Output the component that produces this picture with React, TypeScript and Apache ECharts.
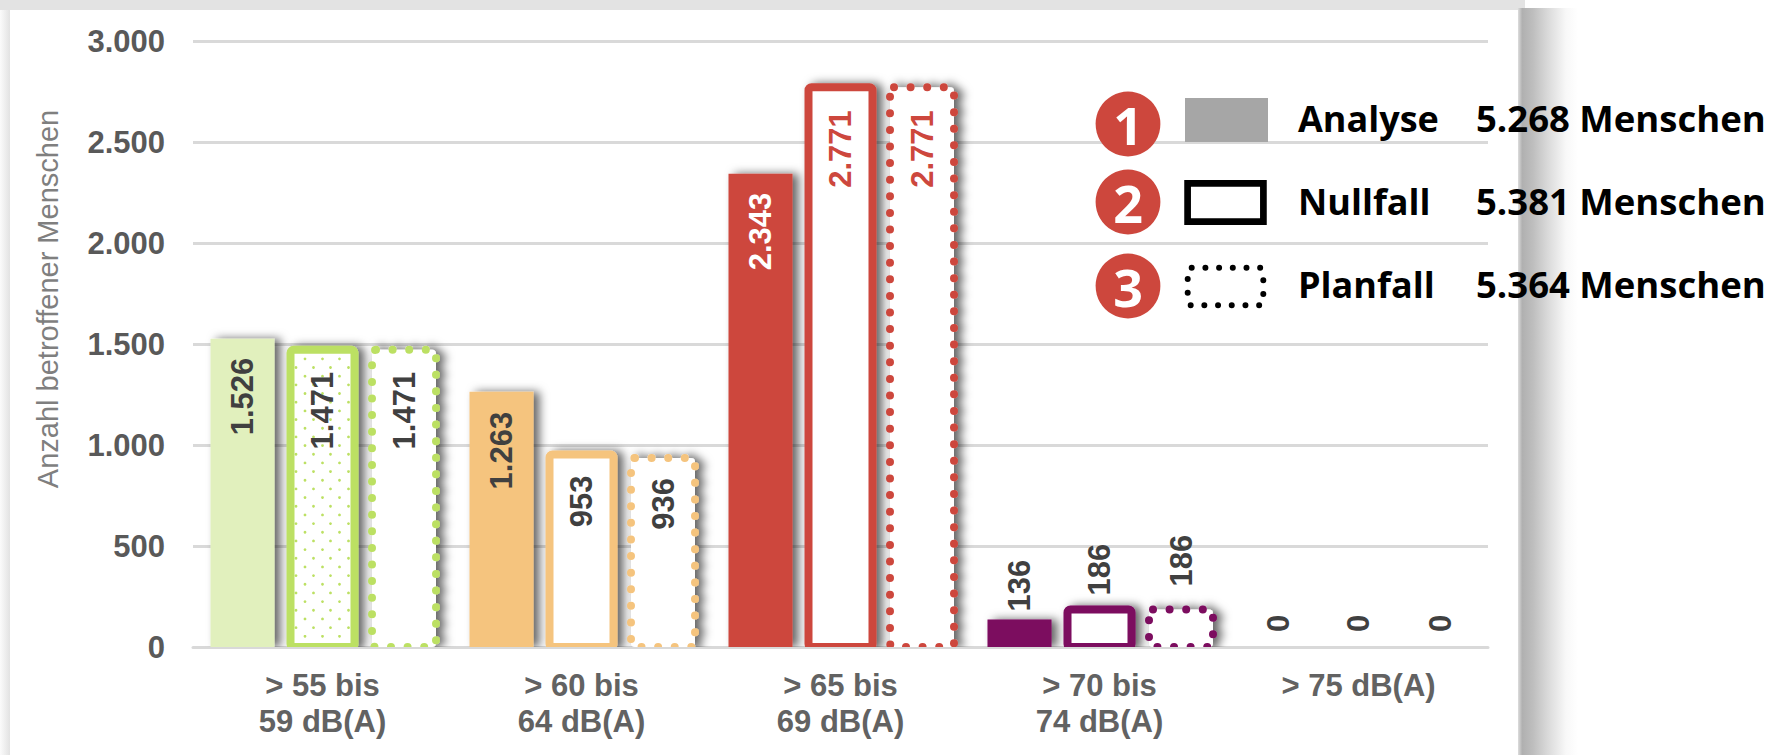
import React, { useEffect, useRef } from "react";
import * as echarts from "echarts";

const categories = ["> 55 bis\n59 dB(A)", "> 60 bis\n64 dB(A)", "> 65 bis\n69 dB(A)", "> 70 bis\n74 dB(A)", "> 75 dB(A)"];
const analyse = [1526, 1263, 2343, 136, 0];
const nullfall = [1471, 953, 2771, 186, 0];
const planfall = [1471, 936, 2771, 186, 0];
const yTicks = [0, 500, 1000, 1500, 2000, 2500, 3000];
const strongColors = ["#BCE063", "#F5C47E", "#CD473D", "#7B0A5E", "#7B0A5E"];
const analyseColors = ["#E1F0BD", "#F5C47E", "#CD473D", "#7B0A5E", "#7B0A5E"];
const legendRows = [
  { num: "1", name: "Analyse", total: "5.268 Menschen" },
  { num: "2", name: "Nullfall", total: "5.381 Menschen" },
  { num: "3", name: "Planfall", total: "5.364 Menschen" },
];

// Distance of each value label from the top of its bar (negative: above the bar)
const analyseLabelNudge = [19, 20, 19, -8, -15];
const nullfallLabelNudge = [22, 21, 23, -14, -15];
const planfallLabelNudge = [22, 20, 23, -23, -15];

const FONT = '"Liberation Sans", Arial, sans-serif';
const LEGEND_FONT = '"Open Sans", sans-serif';
const fmt = (v: number) => String(v).replace(/\B(?=(\d{3})+$)/g, ".");
const SHADOW = { shadowColor: "rgba(0,0,0,0.6)", shadowBlur: 10, shadowOffsetX: 6, shadowOffsetY: 0 };
const DOT_ROWS = [[-17.5, 0, 17], [-26.5, -9, 8, 26]];

type Kind = "fill" | "solid" | "dot";

function makeSeries(name: string, values: number[], kind: Kind, xOffset: number, nudge: number[]) {
  return {
    name,
    type: "custom",
    clip: true,
    silent: true,
    encode: { x: 0, y: 1 },
    data: values.map((v, i) => [i, v]),
    renderItem: (_p: any, api: any) => {
      const i = api.value(0);
      const v = api.value(1);
      const [cx, yTop] = api.coord([i, v]);
      const [, y0] = api.coord([i, 0]);
      const xc = cx + xOffset;
      const c = strongColors[i];
      const kids: any[] = [];
      const shape = { x: xc - 32, y: yTop, width: 64, height: y0 - yTop };
      if (v > 0) {
        if (kind === "fill") {
          kids.push({ type: "rect", shape, style: { fill: analyseColors[i], ...SHADOW } });
        } else if (kind === "solid") {
          kids.push({ type: "rect", shape: { ...shape, r: 3 }, style: { fill: "#FFFFFF", stroke: c, lineWidth: 8, ...SHADOW } });
          if (i === 0) {
            for (let row = 0, y = yTop + 9; y < y0 - 4; row++, y += 8.67) {
              DOT_ROWS[row % 2].forEach((dx) => {
                kids.push({ type: "circle", shape: { cx: xc + dx, cy: y, r: 1.4 }, style: { fill: c } });
              });
            }
          }
        } else {
          kids.push({ type: "rect", shape: { ...shape, r: 4 }, style: { fill: "#FFFFFF", stroke: c, lineWidth: 8, lineDash: [0, 16.6], lineCap: "round", ...SHADOW } });
        }
      }
      const n = nudge[i];
      const color = i === 2 ? (kind === "fill" ? "#FFFFFF" : c) : "#404040";
      kids.push({
        type: "text",
        x: xc,
        y: yTop + n,
        rotation: Math.PI / 2,
        style: { text: fmt(v), fill: color, font: `bold 31px ${FONT}`, align: n > 0 ? "right" : "left", verticalAlign: "middle" },
      });
      return { type: "group", children: kids };
    },
  };
}

const legendGraphics = () => {
  const circleYs = [124, 202, 286];
  const textYs = [118, 201, 284];
  const out: any[] = [];
  legendRows.forEach((r, i) => {
    out.push({ type: "circle", z: 100, shape: { cx: 1128, cy: circleYs[i], r: 32.4 }, style: { fill: "#CD473D" } });
    out.push({ type: "text", z: 101, x: 1128, y: circleYs[i], style: { text: r.num, fill: "#FFFFFF", font: `bold 52px ${LEGEND_FONT}`, align: "center", verticalAlign: "middle" } });
    out.push({ type: "text", z: 101, x: 1298, y: textYs[i], style: { text: r.name, fill: "#000000", font: `bold 36px ${LEGEND_FONT}`, align: "left", verticalAlign: "middle" } });
    out.push({ type: "text", z: 101, x: 1476, y: textYs[i], style: { text: r.total, fill: "#000000", font: `bold 36.5px ${LEGEND_FONT}`, align: "left", verticalAlign: "middle" } });
  });
  out.push({ type: "rect", z: 100, shape: { x: 1185, y: 98, width: 83, height: 44 }, style: { fill: "#A6A6A6" } });
  out.push({ type: "rect", z: 100, shape: { x: 1187.6, y: 183.3, width: 75.8, height: 38.4 }, style: { fill: "#FFFFFF", stroke: "#000000", lineWidth: 6.7 } });
  out.push({ type: "rect", z: 100, shape: { x: 1187.7, y: 267.7, width: 75.6, height: 37.6, r: 4 }, style: { fill: "#FFFFFF", stroke: "#000000", lineWidth: 6, lineDash: [0, 13.7], lineCap: "round" } });
  return out;
};

const backgroundGraphics = () => [
  { type: "rect", z: -10, shape: { x: 0, y: 0, width: 1771, height: 755 }, style: { fill: "#FFFFFF" } },
  { type: "rect", z: -9, shape: { x: 0, y: 0, width: 10, height: 755 }, style: { fill: { type: "linear", x: 0, y: 0, x2: 1, y2: 0, colorStops: [{ offset: 0, color: "#FBFBFB" }, { offset: 1, color: "#E2E2E2" }] } } },
  { type: "rect", z: -9, shape: { x: 0, y: 0, width: 1525, height: 10 }, style: { fill: "#E3E3E3" } },
  { type: "rect", z: -9, shape: { x: 1518, y: 8, width: 60, height: 747 }, style: { fill: { type: "linear", x: 0, y: 0, x2: 1, y2: 0, colorStops: [{ offset: 0, color: "#DDDDDD" }, { offset: 0.07, color: "#B0B0B0" }, { offset: 0.25, color: "#BEBEBE" }, { offset: 0.5, color: "#DADADA" }, { offset: 0.8, color: "#F8F8F8" }, { offset: 1, color: "#FFFFFF" }] } } },
];

export default function App() {
  const ref = useRef<HTMLDivElement>(null);
  useEffect(() => {
    const chart = echarts.init(ref.current!, undefined, { renderer: "svg" });
    chart.setOption({
      animation: false,
      backgroundColor: "#FFFFFF",
      grid: { left: 193, right: 283, top: 41, bottom: 108, containLabel: false },
      xAxis: {
        type: "category",
        data: categories,
        axisTick: { show: false },
        axisLine: { lineStyle: { color: "#D9D9D9", width: 3 } },
        axisLabel: { color: "#626262", fontFamily: FONT, fontWeight: "bold", fontSize: 31, lineHeight: 36, margin: 20, interval: 0 },
      },
      yAxis: {
        type: "value",
        min: yTicks[0],
        max: yTicks[yTicks.length - 1],
        interval: 500,
        name: "Anzahl betroffener Menschen",
        nameLocation: "middle",
        nameGap: 131,
        nameTextStyle: { color: "#7F7F7F", fontFamily: FONT, fontSize: 29, padding: [0, 0, 0, 90] },
        axisLine: { show: false },
        axisTick: { show: false },
        splitLine: { lineStyle: { color: "#D9D9D9", width: 3 } },
        axisLabel: { color: "#595959", fontFamily: FONT, fontWeight: "bold", fontSize: 31, margin: 28, formatter: (v: number) => fmt(v) },
      },
      graphic: [...backgroundGraphics(), ...legendGraphics()],
      series: [
        makeSeries("Analyse", analyse, "fill", -80, analyseLabelNudge),
        makeSeries("Nullfall", nullfall, "solid", 0, nullfallLabelNudge),
        makeSeries("Planfall", planfall, "dot", 81.5, planfallLabelNudge),
      ],
    });
    return () => chart.dispose();
  }, []);
  return <div ref={ref} style={{ position: "absolute", left: 0, top: 0, width: 1771, height: 755 }} />;
}
